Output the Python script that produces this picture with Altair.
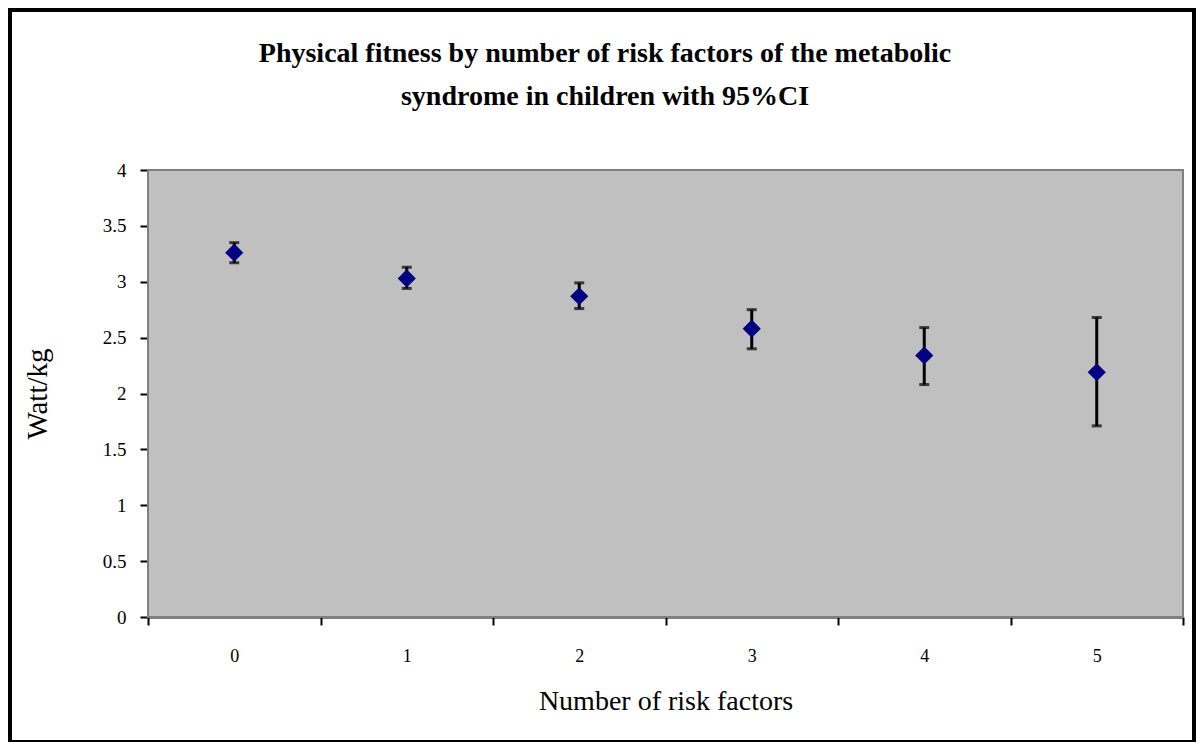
import altair as alt
import pandas as pd

categories = ["0", "1", "2", "3", "4", "5"]
means = [3.26, 3.03, 2.87, 2.58, 2.34, 2.19]
lower = [3.17, 2.94, 2.76, 2.40, 2.08, 1.71]
upper = [3.35, 3.13, 2.99, 2.75, 2.59, 2.68]
y_ticks = [0, 0.5, 1, 1.5, 2, 2.5, 3, 3.5, 4]
title_lines = [
    "Physical fitness by number of risk factors of the metabolic",
    "syndrome in children with 95%CI",
]

df = pd.DataFrame({"cat": categories, "mean": means, "lo": lower, "hi": upper})

FONT = "Liberation Serif"
W, H = 1035, 447

x_enc = alt.X(
    "cat:N",
    sort=categories,
    scale=alt.Scale(paddingInner=0, paddingOuter=0),
    axis=alt.Axis(
        title="Number of risk factors",
        labelAngle=0,
        tickBand="extent",
        tickSize=8,
        tickWidth=2,
        tickColor="black",
        domainColor="black",
        domainWidth=2,
        labelFont=FONT,
        labelFontSize=18,
        labelColor="black",
        labelPadding=22,
        titleFont=FONT,
        titleFontSize=28,
        titleFontWeight="normal",
        titleColor="black",
        titlePadding=22,
        grid=False,
    ),
)

y_scale = alt.Scale(domain=[0, 4], nice=False)
y_axis = alt.Axis(
    title="Watt/kg",
    values=y_ticks,
    format="~g",
    tickSize=8,
    tickWidth=2,
    tickColor="black",
    domainColor="black",
    domainWidth=2,
    labelFont=FONT,
    labelFontSize=19,
    labelColor="black",
    labelPadding=14,
    titleFont=FONT,
    titleFontSize=29,
    titleFontWeight="normal",
    titleColor="black",
    titlePadding=50,
    grid=False,
)

base = alt.Chart(df)

bg = base.mark_rect(fill="#C0C0C0", stroke="#808080", strokeWidth=2).encode(
    x=alt.value(0), x2=alt.value(W), y=alt.value(0), y2=alt.value(H)
)
rules = base.mark_rule(color="black", strokeWidth=3).encode(
    x=x_enc,
    y=alt.Y("lo:Q", scale=y_scale, axis=y_axis),
    y2="hi:Q",
)
cap_lo = base.mark_tick(color="black", orient="horizontal", size=10, thickness=3).encode(
    x="cat:N", y="lo:Q"
)
cap_hi = base.mark_tick(color="black", orient="horizontal", size=10, thickness=3).encode(
    x="cat:N", y="hi:Q"
)
points = base.mark_point(shape="diamond", filled=True, color="#000080", size=330, opacity=1).encode(
    x="cat:N", y="mean:Q"
)

one = alt.Chart(pd.DataFrame({"f": [0]}))
frame = one.mark_rect(fill=None, stroke="black", strokeWidth=4, clip=False).encode(
    x=alt.value(-138), x2=alt.value(1046), y=alt.value(-160), y2=alt.value(572)
)
title = one.mark_text(
    text=title_lines,
    font=FONT,
    fontSize=28,
    fontWeight="bold",
    color="black",
    align="center",
    baseline="alphabetic",
    lineHeight=43,
).encode(x=alt.value(457), y=alt.value(-108))

chart = (
    alt.layer(bg, rules, cap_lo, cap_hi, points, frame, title)
    .properties(
        width=W,
        height=H,
        padding={"left": 140, "top": 162, "right": 13, "bottom": 125},
        autosize=alt.AutoSizeParams(type="none"),
    )
    .configure_view(stroke=None)
    .configure(background="white")
)

chart.save("out.html", embed_options={"renderer": "svg", "actions": False})
